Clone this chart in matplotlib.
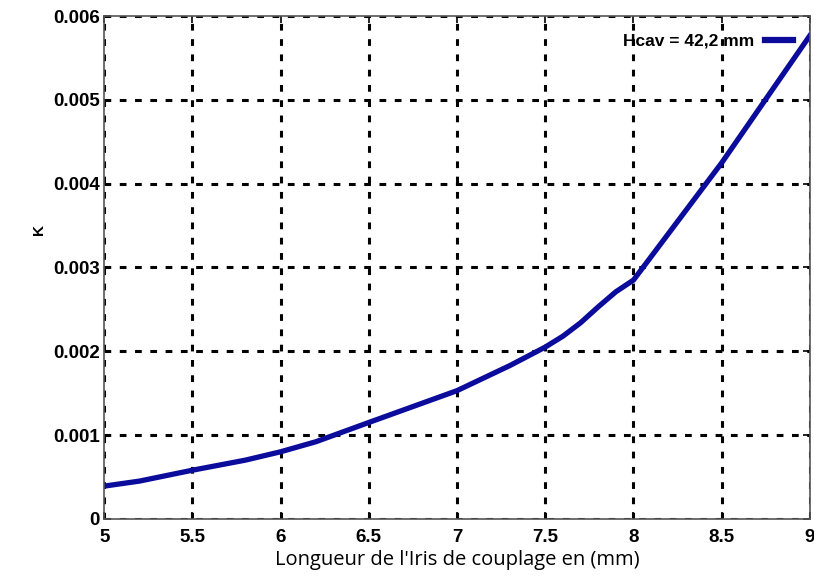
import matplotlib
matplotlib.use("Agg")
import matplotlib.pyplot as plt

# Data
iris_len = [5, 5.2, 5.5, 5.8, 6, 6.2, 6.5, 7, 7.3, 7.5, 7.6, 7.7, 7.8, 7.9, 8, 8.5, 9]
k_values = [0.00039, 0.00045, 0.00058, 0.00070, 0.00080, 0.00092, 0.00115, 0.00153,
            0.00183, 0.00205, 0.00218, 0.00234, 0.00253, 0.00271, 0.00285, 0.00425, 0.00577]
x_ticks = [5, 5.5, 6, 6.5, 7, 7.5, 8, 8.5, 9]
x_labels = ["5", "5.5", "6", "6.5", "7", "7.5", "8", "8.5", "9"]
y_ticks = [0, 0.001, 0.002, 0.003, 0.004, 0.005, 0.006]
y_labels = ["0", "0.001", "0.002", "0.003", "0.004", "0.005", "0.006"]
series_label = "Hcav = 42,2 mm"

fig = plt.figure(figsize=(8.14, 5.79), dpi=100)
ax = fig.add_axes([0.128, 0.104, 0.867, 0.868])

ax.plot(iris_len, k_values, color="#0b0b9c", linewidth=3.8, label=series_label,
        solid_joinstyle="round")

ax.set_xlim(5, 9)
ax.set_ylim(0, 0.006)
ax.set_xticks(x_ticks)
ax.set_xticklabels(x_labels)
ax.set_yticks(y_ticks)
ax.set_yticklabels(y_labels)

ax.grid(True, color="black", linestyle=(0, (2.2, 2.8)), linewidth=2.2)
ax.tick_params(direction="in", length=5, width=1.2, top=True, right=True,
               labelsize=13.5)
ax.tick_params(axis="x", pad=7)
ax.tick_params(axis="y", pad=3)
for lbl in ax.get_xticklabels() + ax.get_yticklabels():
    lbl.set_fontweight("bold")
    lbl.set_family("Liberation Sans")
for sp in ax.spines.values():
    sp.set_color("#555555")
    sp.set_linewidth(1.2)

ax.set_xlabel("Longueur de l'Iris de couplage en (mm)", fontsize=14.5,
              family="Open Sans", labelpad=3)
ax.set_ylabel("K", fontsize=11, fontweight="bold", family="Liberation Sans")
ax.yaxis.set_label_coords(-0.082, 0.575)

leg = ax.legend(loc="upper right", frameon=False, handlelength=1.6,
                handletextpad=0.6, borderaxespad=0.6, markerfirst=False,
                prop={"family": "Liberation Sans", "weight": "bold", "size": 12.5})
for h in leg.get_lines():
    h.set_linewidth(4.5)

fig.savefig("out.png", dpi=100)
